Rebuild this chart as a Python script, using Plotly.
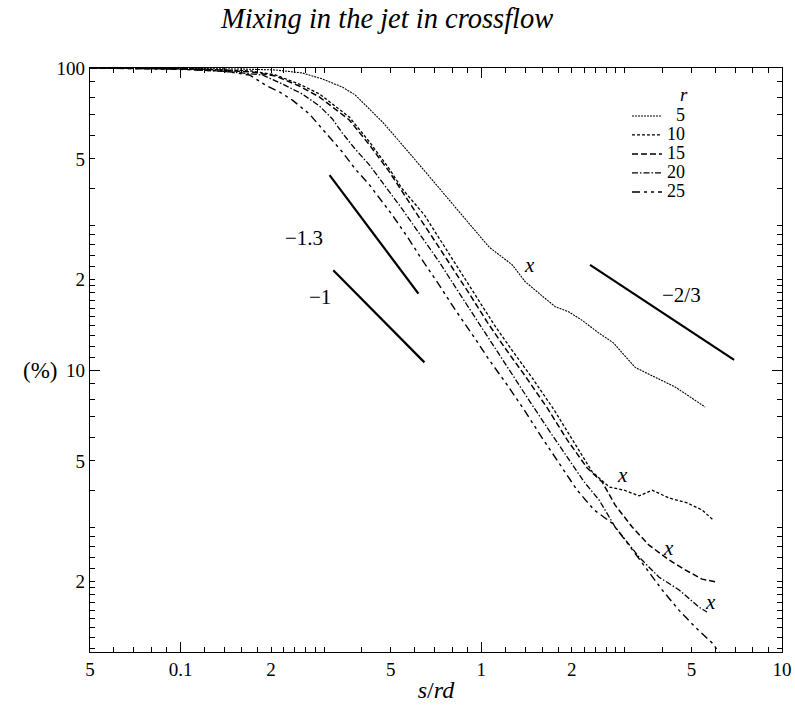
import numpy as np
import plotly.graph_objects as go

# ---------------- data ----------------
r_labels = ["5", "10", "15", "20", "25"]

x_r5 = [0.05, 0.0807, 0.118, 0.161, 0.207, 0.254, 0.296, 0.345, 0.381, 0.469, 0.547, 0.637,
        0.687, 0.851, 1.063, 1.268, 1.40, 1.55, 1.762, 1.95, 2.166, 2.45, 2.75, 2.94, 3.25,
        3.6, 4.0, 4.41, 4.9, 5.55]
y_r5 = [100, 99.8, 99.6, 99.2, 98.5, 96.3, 92.0, 86.5, 81.4, 66.3, 55.6, 46.3,
        42.6, 33.1, 25.5, 22.3, 19.6, 18.0, 16.2, 15.6, 14.6, 13.3, 12.3, 11.4, 10.2,
        9.7, 9.2, 8.79, 8.2, 7.54]

x_r10 = [0.05, 0.118, 0.173, 0.207, 0.248, 0.29, 0.364, 0.425, 0.495, 0.546, 0.647, 0.742,
         0.852, 0.97, 1.105, 1.268, 1.477, 1.748, 2.037, 2.338, 2.662, 2.986, 3.35, 3.7,
         4.214, 4.836, 5.424, 5.9]
y_r10 = [100, 99.2, 97.7, 94.8, 88.5, 82.0, 68.8, 56.9, 46.3, 39.8, 32.6, 26.3,
         21.4, 17.3, 14.1, 11.6, 9.41, 7.37, 5.78, 4.6, 4.1, 4.0, 3.83, 4.0,
         3.77, 3.63, 3.44, 3.19]

x_r15 = [0.05, 0.118, 0.173, 0.207, 0.248, 0.29, 0.364, 0.425, 0.495, 0.546, 0.604, 0.698,
         0.801, 0.919, 1.047, 1.201, 1.40, 1.657, 1.931, 2.25, 2.523, 2.788, 3.176, 3.614,
         4.214, 4.762, 5.424, 5.99]
y_r15 = [100, 99.2, 97.0, 94.1, 87.2, 80.1, 67.3, 55.6, 45.3, 38.9, 33.4, 26.9,
         21.9, 17.7, 14.4, 11.8, 9.55, 7.49, 5.87, 4.74, 4.26, 3.57, 3.02, 2.63,
         2.35, 2.18, 2.03, 1.99]

x_r20 = [0.05, 0.1015, 0.1489, 0.1873, 0.2183, 0.2542, 0.29, 0.32, 0.3452, 0.381, 0.425,
         0.469, 0.518, 0.546, 0.627, 0.725, 0.832, 0.955, 1.088, 1.248, 1.455, 1.695, 1.961,
         2.199, 2.466, 2.788, 3.35, 3.903, 4.549, 5.30, 5.63]
y_r20 = [100, 99.2, 97.0, 94.8, 88.5, 82.0, 74.8, 67.8, 60.9, 53.9, 47.7,
         41.9, 36.6, 34.1, 28.0, 22.8, 18.4, 14.9, 12.1, 9.85, 7.83, 6.23, 5.04,
         4.26, 3.71, 3.02, 2.40, 2.06, 1.87, 1.64, 1.58]

x_r25 = [0.05, 0.094, 0.1379, 0.1696, 0.1916, 0.2133, 0.2355, 0.2683, 0.2963, 0.32, 0.3452,
         0.381, 0.425, 0.469, 0.506, 0.568, 0.637, 0.725, 0.82, 0.934, 1.063, 1.22, 1.39,
         1.595, 1.83, 2.084, 2.374, 2.724, 3.10, 3.507, 3.994, 4.549, 5.14, 5.85, 6.32]
y_r25 = [100, 99.2, 97.7, 94.8, 87.8, 83.3, 78.3, 70.4, 62.8, 57.7, 52.7,
         46.3, 41.0, 36.0, 32.6, 27.6, 23.1, 19.1, 15.8, 13.1, 10.8, 8.92, 7.37,
         5.95, 4.85, 4.0, 3.44, 3.11, 2.63, 2.23, 1.87, 1.60, 1.41, 1.25, 1.13]

# reference slope lines: (x0, x1), (y0, y1)
slope_names = ["\u22121.3", "\u22121", "\u22122/3"]
slope_x = [[0.313, 0.618], [0.322, 0.647], [2.30, 6.93]]
slope_y = [[44.2, 17.9], [21.4, 10.6], [22.3, 10.8]]
slope_label_x = [0.258, 0.292, 4.65]
slope_label_y = [27.4, 17.4, 17.7]

# "x" break-point marks
xmark_x = [1.444, 2.94, 4.18, 5.77]
xmark_y = [22.3, 4.49, 2.57, 1.71]

# axis ticks
x_tickvals = [0.05, 0.1, 0.2, 0.5, 1, 2, 5, 10]
x_ticktext = ["5", "0.1", "2", "5", "1", "2", "5", "10"]
x_minor = [0.06, 0.07, 0.08, 0.09, 0.12, 0.14, 0.16, 0.18, 0.22, 0.24, 0.26, 0.28, 0.3,
           0.4, 0.6, 0.7, 0.8, 0.9, 1.2, 1.4, 1.6, 1.8, 2.2, 2.4, 2.6, 2.8, 3, 4, 6, 7, 8, 9]
x_decades = [0.1, 1, 10]
y_tickvals = [2, 5, 10, 20, 50, 100]
y_ticktext = ["2", "5", "10", "2", "5", "100"]
y_minor = [1.2, 1.3, 1.4, 1.5, 1.6, 1.7, 1.8, 1.9, 2.2, 2.4, 2.6, 2.8, 3, 4, 6, 7, 8, 9,
           11, 12, 13, 14, 15, 16, 17, 18, 19, 22, 24, 26, 28, 30, 40, 60, 70, 80, 90]
y_decades = [10, 100]

x_range = [0.05, 10]
y_range = [1.165, 100]

# ---------------- figure ----------------
SERIF = "Liberation Serif, Times New Roman, serif"
series = [
    (x_r5, y_r5, "2px,1px", 1.1),
    (x_r10, y_r10, "3px,2px", 1.3),
    (x_r15, y_r15, "6px,3px", 1.5),
    (x_r20, y_r20, "6px,2px,1.5px,2px", 1.3),
    (x_r25, y_r25, "8px,4px,3px,4px,3px,4px", 1.4),
]
legend_names = ["\u00a0\u00a05", "10", "15", "20", "25"]

fig = go.Figure()
for (xs, ys, dash, w), name in zip(series, legend_names):
    fig.add_trace(go.Scatter(x=xs, y=ys, mode="lines",
                             name='<span style="font-size:18px">' + name + '</span>',
                             line=dict(color="black", width=w, dash=dash)))

for sx, sy in zip(slope_x, slope_y):
    fig.add_trace(go.Scatter(x=sx, y=sy, mode="lines", showlegend=False,
                             line=dict(color="black", width=2.2)))

# empty trace to anchor the overlay axes carrying the long decade ticks
fig.add_trace(go.Scatter(x=[], y=[], xaxis="x2", yaxis="y2", showlegend=False))

annotations = []
for t, lx, ly in zip(slope_names, slope_label_x, slope_label_y):
    annotations.append(dict(x=np.log10(lx), y=np.log10(ly), xref="x", yref="y", text=t,
                            showarrow=False, font=dict(family=SERIF, size=21, color="black")))
for mx, my in zip(xmark_x, xmark_y):
    annotations.append(dict(x=np.log10(mx), y=np.log10(my), xref="x", yref="y", text="<i>x</i>",
                            showarrow=False, font=dict(family=SERIF, size=21, color="black")))
annotations.append(dict(x=-0.072, y=1, xref="paper", yref="y", text="(%)", showarrow=False,
                        xanchor="center", yanchor="middle",
                        font=dict(family=SERIF, size=23, color="black")))

axis_common = dict(type="log", showgrid=False, zeroline=False, ticks="inside",
                   tickcolor="black", tickwidth=1, linecolor="black", linewidth=1.2,
                   automargin=False)

fig.update_layout(
    width=795, height=719,
    margin=dict(l=90, r=13, t=68, b=67),
    paper_bgcolor="white", plot_bgcolor="white",
    title=dict(text="<i>Mixing in the jet in crossflow</i>", x=0.487, xanchor="center",
               y=0.975, yanchor="middle",
               font=dict(family=SERIF, size=28.5, color="black")),
    font=dict(family=SERIF, size=15, color="black"),
    xaxis=dict(axis_common, range=[np.log10(x_range[0]), np.log10(x_range[1])],
               tickvals=x_tickvals, ticktext=x_ticktext, ticklen=5, showline=True,
               mirror="ticks",
               minor=dict(tickvals=x_minor, ticks="inside", ticklen=5, tickcolor="black"),
               title=dict(text="<i>s</i>/<i>rd</i>", standoff=2,
                          font=dict(family=SERIF, size=24)),
               tickfont=dict(family=SERIF, size=19)),
    yaxis=dict(axis_common, range=[np.log10(y_range[0]), np.log10(y_range[1])],
               tickvals=y_tickvals, ticktext=y_ticktext, ticklen=5, showline=True,
               mirror="ticks",
               minor=dict(tickvals=y_minor, ticks="inside", ticklen=5, tickcolor="black"),
               tickfont=dict(family=SERIF, size=19)),
    xaxis2=dict(axis_common, overlaying="x", anchor="y2", side="bottom",
                range=[np.log10(x_range[0]), np.log10(x_range[1])],
                tickvals=x_decades, ticklen=10, showticklabels=False, showline=False,
                mirror="ticks"),
    yaxis2=dict(axis_common, overlaying="y", anchor="x2", side="left",
                range=[np.log10(y_range[0]), np.log10(y_range[1])],
                tickvals=y_decades, ticklen=10, showticklabels=False, showline=False,
                mirror="ticks"),
    legend=dict(x=0.776, y=0.985, xanchor="left", yanchor="top",
                bgcolor="rgba(0,0,0,0)", borderwidth=0, itemwidth=30,
                font=dict(family=SERIF, size=12, color="black"),
                title=dict(text="<i>r</i>", side="top right",
                           font=dict(family=SERIF, size=19))),
    annotations=annotations,
    showlegend=True,
)

fig.write_html("out.html")
